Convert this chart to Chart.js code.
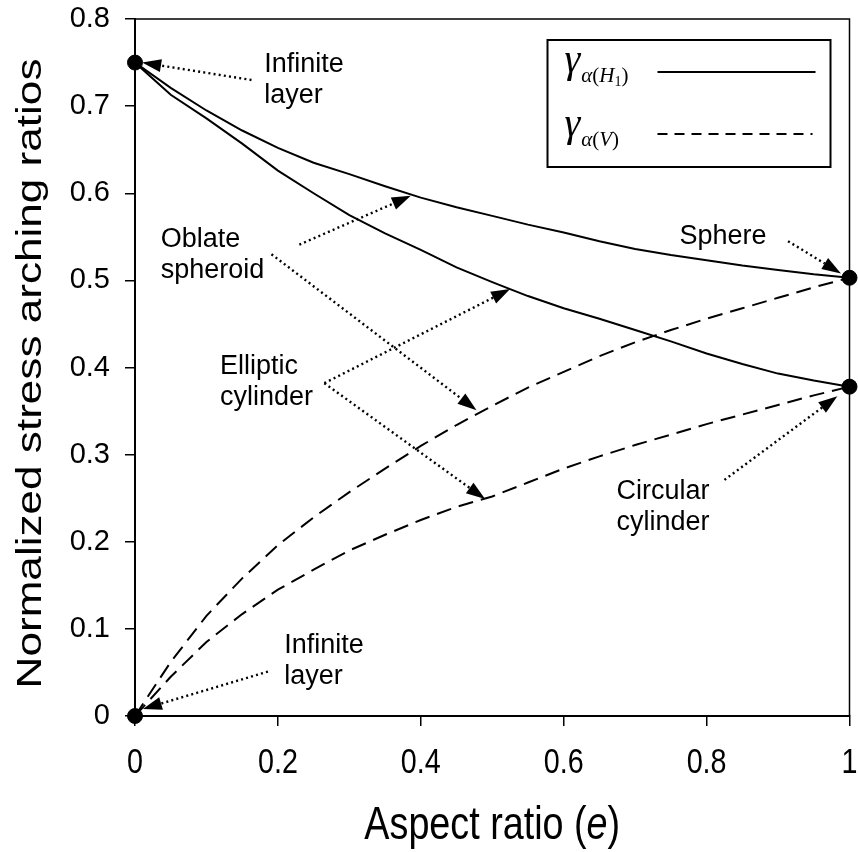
<!DOCTYPE html>
<html>
<head>
<meta charset="utf-8">
<script src="https://cdn.jsdelivr.net/npm/chart.js@4.4.0/dist/chart.umd.min.js"></script>
<style>
  html, body { margin: 0; padding: 0; background: #fff; }
</style>
</head>
<body>
<canvas id="chart" width="858" height="852"></canvas>
<script>
// aspect ratio e, shared by all four curves
const aspect = [0, 0.05, 0.1, 0.15, 0.2, 0.25, 0.3, 0.35, 0.4, 0.45, 0.5,
                0.55, 0.6, 0.65, 0.7, 0.75, 0.8, 0.85, 0.9, 0.95, 1];
// gamma alpha(H1), solid
const hSpheroid = [0.750, 0.721, 0.695, 0.672, 0.652, 0.635, 0.622, 0.608, 0.595, 0.584, 0.574,
                   0.564, 0.555, 0.545, 0.536, 0.529, 0.523, 0.517, 0.512, 0.507, 0.503];
const hCylinder = [0.750, 0.713, 0.686, 0.657, 0.626, 0.600, 0.575, 0.554, 0.535, 0.515, 0.498,
                   0.482, 0.468, 0.456, 0.443, 0.430, 0.416, 0.404, 0.393, 0.385, 0.378];
// gamma alpha(V), dashed
const vSpheroid = [0, 0.062, 0.115, 0.158, 0.196, 0.228, 0.257, 0.284, 0.310, 0.334, 0.356,
                   0.377, 0.395, 0.413, 0.429, 0.443, 0.456, 0.468, 0.480, 0.492, 0.503];
const vCylinder = [0, 0.045, 0.085, 0.117, 0.145, 0.168, 0.190, 0.208, 0.225, 0.240, 0.252,
                   0.268, 0.284, 0.298, 0.311, 0.323, 0.335, 0.346, 0.357, 0.368, 0.378];
// limiting cases (infinite layer, sphere, circular cylinder)
const endE = [0, 0, 1, 1];
const endVal = [0.75, 0, 0.503, 0.378];

const xTickVals = [0, 0.2, 0.4, 0.6, 0.8, 1];
const xTickLabels = ['0', '0.2', '0.4', '0.6', '0.8', '1'];
const yTickVals = [0, 0.1, 0.2, 0.3, 0.4, 0.5, 0.6, 0.7, 0.8];
const yTickLabels = ['0', '0.1', '0.2', '0.3', '0.4', '0.5', '0.6', '0.7', '0.8'];

// callouts: text anchor and arrows [fromE, fromV, toE, toV], in data units
const notes = [
  { text: ['Infinite', 'layer'], e: 0.181, v: 0.739, arrows: [[0.163, 0.730, 0.010, 0.750]] },
  { text: ['Infinite', 'layer'], e: 0.209, v: 0.072, arrows: [[0.186, 0.051, 0.011, 0.008]] },
  { text: ['Oblate', 'spheroid'], e: 0.036, v: 0.538,
    arrows: [[0.230, 0.541, 0.386, 0.597], [0.191, 0.530, 0.478, 0.351]] },
  { text: ['Elliptic', 'cylinder'], e: 0.119, v: 0.392,
    arrows: [[0.265, 0.382, 0.525, 0.490], [0.265, 0.382, 0.490, 0.249]] },
  { text: ['Sphere'], e: 0.762, v: 0.542, arrows: [[0.914, 0.545, 0.988, 0.508]] },
  { text: ['Circular', 'cylinder'], e: 0.674, v: 0.249, arrows: [[0.825, 0.271, 0.983, 0.367]] }
];

const SANS = '"Liberation Sans", Arial, sans-serif';
const SERIF = '"Liberation Serif", "Times New Roman", serif';

const toXY = (xs, ys) => xs.map((x, i) => ({ x: x, y: ys[i] }));

function arrow(ctx, x1, y1, x2, y2) {
  const ang = Math.atan2(y2 - y1, x2 - x1);
  const len = 19, half = 6.5;
  const bx = x2 - Math.cos(ang) * len, by = y2 - Math.sin(ang) * len;
  ctx.save();
  ctx.setLineDash([2, 3.2]);
  ctx.lineWidth = 2.4;
  ctx.beginPath();
  ctx.moveTo(x1, y1);
  ctx.lineTo(bx, by);
  ctx.stroke();
  ctx.setLineDash([]);
  ctx.beginPath();
  ctx.moveTo(x2, y2);
  ctx.lineTo(bx - Math.sin(ang) * half, by + Math.cos(ang) * half);
  ctx.lineTo(bx + Math.sin(ang) * half, by - Math.cos(ang) * half);
  ctx.closePath();
  ctx.fill();
  ctx.restore();
}

function drawParts(ctx, x, y, parts) {
  let cx = x;
  parts.forEach(p => {
    ctx.font = p.f;
    ctx.fillText(p.t, cx, y + p.dy);
    cx += ctx.measureText(p.t).width + (p.gap || 0);
  });
}

const extras = {
  id: 'extras',
  afterDraw(chart) {
    const ctx = chart.ctx;
    const xs = chart.scales.x, ys = chart.scales.y;
    const area = chart.chartArea;
    ctx.save();
    ctx.fillStyle = '#000';
    ctx.strokeStyle = '#000';

    // top and right frame
    ctx.lineWidth = 1.5;
    ctx.beginPath();
    ctx.moveTo(area.left, area.top);
    ctx.lineTo(area.right, area.top);
    ctx.lineTo(area.right, area.bottom);
    ctx.stroke();

    // callouts
    ctx.font = '27px ' + SANS;
    ctx.textAlign = 'left';
    ctx.textBaseline = 'alphabetic';
    notes.forEach(n => {
      const tx = xs.getPixelForValue(n.e), ty = ys.getPixelForValue(n.v);
      n.text.forEach((line, i) => ctx.fillText(line, tx, ty + i * 31));
      n.arrows.forEach(a => arrow(ctx,
        xs.getPixelForValue(a[0]), ys.getPixelForValue(a[1]),
        xs.getPixelForValue(a[2]), ys.getPixelForValue(a[3])));
    });

    // legend box
    const bx = area.right - 302, by = area.top + 21, bw = 283, bh = 127;
    ctx.lineWidth = 2;
    ctx.strokeRect(bx, by, bw, bh);
    const row1 = by + 32, row2 = by + 96;
    drawParts(ctx, bx + 17, row1, [
      { t: 'γ', f: 'italic 40px ' + SERIF, dy: 0, gap: 1 },
      { t: 'α', f: 'italic 21px ' + SERIF, dy: 10 },
      { t: '(', f: '21px ' + SERIF, dy: 10 },
      { t: 'H', f: 'italic 21px ' + SERIF, dy: 10 },
      { t: '1', f: '14px ' + SERIF, dy: 14 },
      { t: ')', f: '21px ' + SERIF, dy: 10 }
    ]);
    drawParts(ctx, bx + 17, row2, [
      { t: 'γ', f: 'italic 40px ' + SERIF, dy: 0, gap: 1 },
      { t: 'α', f: 'italic 21px ' + SERIF, dy: 10 },
      { t: '(', f: '21px ' + SERIF, dy: 10 },
      { t: 'V', f: 'italic 21px ' + SERIF, dy: 10 },
      { t: ')', f: '21px ' + SERIF, dy: 10 }
    ]);
    ctx.lineWidth = 2;
    ctx.beginPath();
    ctx.moveTo(bx + 110, row1);
    ctx.lineTo(bx + 268, row1);
    ctx.stroke();
    ctx.setLineDash([10, 7]);
    ctx.beginPath();
    ctx.moveTo(bx + 110, row2 - 2);
    ctx.lineTo(bx + 265, row2 - 2);
    ctx.stroke();
    ctx.setLineDash([]);

    // y axis title, stretched along its length like the original
    ctx.save();
    ctx.translate(31, (area.top + area.bottom) / 2 + 6);
    ctx.rotate(-Math.PI / 2);
    ctx.scale(1.26, 1);
    ctx.font = '35px ' + SANS;
    ctx.textAlign = 'center';
    ctx.textBaseline = 'middle';
    ctx.fillText('Normalized stress arching ratios', 0, 0);
    ctx.restore();

    // x tick labels, condensed like the original
    ctx.font = '35px ' + SANS;
    ctx.textAlign = 'center';
    ctx.textBaseline = 'middle';
    xTickVals.forEach((v, i) => {
      ctx.save();
      ctx.translate(xs.getPixelForValue(v), 763);
      ctx.scale(0.82, 1);
      ctx.fillText(xTickLabels[i], 0, 0);
      ctx.restore();
    });

    // x axis title with italic e, condensed
    const parts = [
      { t: 'Aspect ratio (', f: '46px ' + SANS, dy: 0 },
      { t: 'e', f: 'italic 46px ' + SANS, dy: 0 },
      { t: ')', f: '46px ' + SANS, dy: 0 }
    ];
    let w = 0;
    parts.forEach(p => { ctx.font = p.f; w += ctx.measureText(p.t).width; });
    ctx.save();
    ctx.translate((area.left + area.right) / 2, 826);
    ctx.scale(0.82, 1);
    ctx.textAlign = 'left';
    drawParts(ctx, -w / 2, 0, parts);
    ctx.restore();
    ctx.restore();
  }
};

const curve = (label, ys, dash) => ({
  type: 'line',
  label: label,
  data: toXY(aspect, ys),
  borderColor: '#000',
  borderWidth: 2,
  borderDash: dash,
  pointRadius: 0,
  tension: 0,
  fill: false
});

new Chart(document.getElementById('chart'), {
  type: 'scatter',
  data: {
    datasets: [
      curve('γα(H1) oblate spheroid', hSpheroid, []),
      curve('γα(H1) elliptic cylinder', hCylinder, []),
      curve('γα(V) oblate spheroid', vSpheroid, [15, 8]),
      curve('γα(V) elliptic cylinder', vCylinder, [15, 8]),
      {
        label: 'limits',
        data: toXY(endE, endVal),
        pointRadius: 7.5,
        pointBackgroundColor: '#000',
        pointBorderColor: '#000',
        clip: false
      }
    ]
  },
  options: {
    responsive: false,
    animation: false,
    layout: { padding: { top: 19, right: 6, left: 0, bottom: 0 } },
    plugins: { legend: { display: false }, tooltip: { enabled: false } },
    scales: {
      x: {
        type: 'linear', min: 0, max: 1,
        afterBuildTicks: s => { s.ticks = xTickVals.map(v => ({ value: v })); },
        afterFit: s => { s.height = 136; s.paddingLeft = 0; s.paddingRight = 0; },
        ticks: { display: false },
        grid: { drawOnChartArea: false, tickLength: 10, color: '#000', lineWidth: 1.5 },
        border: { color: '#000', width: 2 }
      },
      y: {
        min: 0, max: 0.8,
        afterBuildTicks: s => { s.ticks = yTickVals.map(v => ({ value: v })); },
        afterFit: s => { s.width = 135; s.paddingTop = 0; s.paddingBottom = 0; },
        ticks: {
          callback: (v, i) => yTickLabels[i],
          font: { size: 29, family: SANS }, color: '#000', padding: 15
        },
        grid: { drawOnChartArea: false, tickLength: 10, color: '#000', lineWidth: 1.5 },
        border: { color: '#000', width: 2 }
      }
    }
  },
  plugins: [extras]
});
</script>
</body>
</html>
